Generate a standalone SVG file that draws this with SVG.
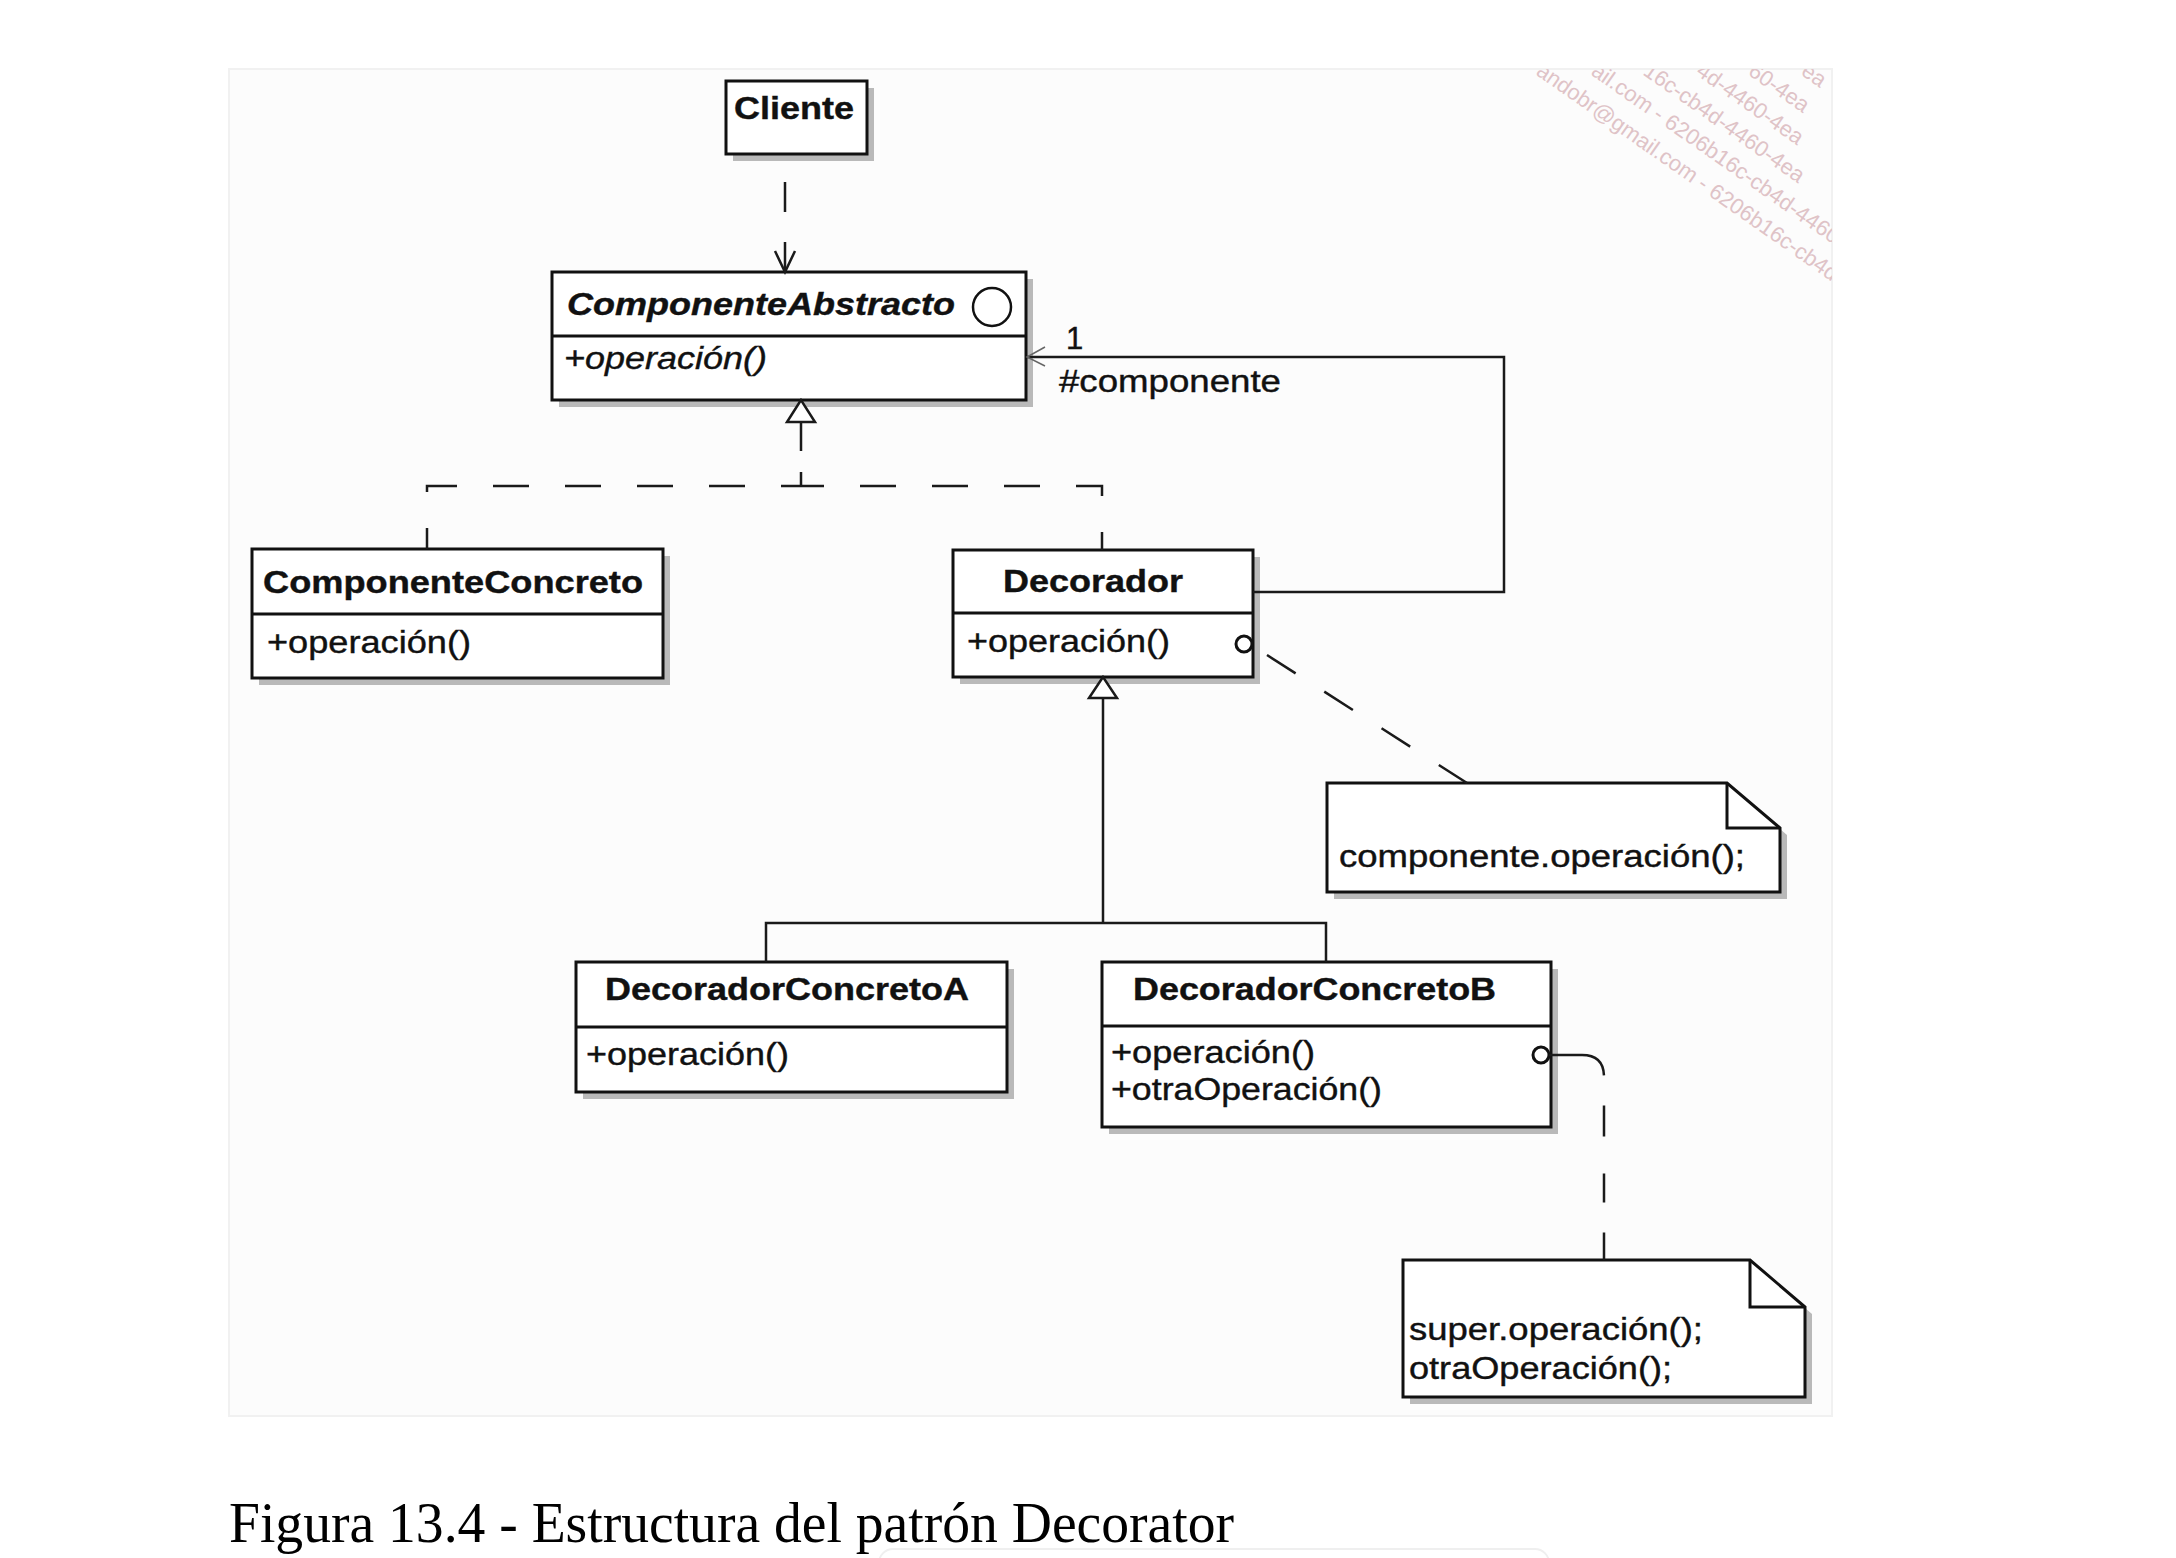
<svg xmlns="http://www.w3.org/2000/svg" width="2176" height="1558" viewBox="0 0 2176 1558">
<defs>
<style>
.box{fill:#fff;stroke:#111;stroke-width:3}
.sh{fill:#b9b9b9}
.div{stroke:#111;stroke-width:3}
.t{font-family:"Liberation Sans",Arial,sans-serif;font-size:31px;fill:#111;stroke:#111;stroke-width:0.4}
.b{font-weight:bold}
.i{font-style:italic}
.conn{fill:none;stroke:#1a1a1a;stroke-width:2.5}
.dash{stroke-dasharray:36 36}
.wm{font-family:"Liberation Sans",Arial,sans-serif;font-size:22px;fill:#dfc3c7}
</style>
<clipPath id="wmclip"><rect x="229" y="69" width="1603" height="1347"/></clipPath>
</defs>
<rect x="0" y="0" width="2176" height="1558" fill="#fff"/>
<rect x="229" y="69" width="1603" height="1347" fill="#fcfcfc" stroke="#f1f1f1" stroke-width="2"/>
<g clip-path="url(#wmclip)" class="wm">
<text transform="translate(1535,74) rotate(35)">andobr@gmail.com - 6206b16c-cb4d-4460-4ea</text>
<text transform="translate(1590,74) rotate(35)">ail.com - 6206b16c-cb4d-4460-4ea</text>
<text transform="translate(1642,74) rotate(35)">16c-cb4d-4460-4ea</text>
<text transform="translate(1695,74) rotate(35)">4d-4460-4ea</text>
<text transform="translate(1747,74) rotate(35)">60-4ea</text>
<text transform="translate(1800,74) rotate(35)">ea</text>
</g>

<g id="cliente">
<rect class="sh" x="733" y="88" width="141" height="73"/>
<rect class="box" x="726" y="81" width="141" height="73"/>
<text class="t b" x="734" y="119" textLength="120" lengthAdjust="spacingAndGlyphs">Cliente</text>
</g>

<g id="componenteAbstracto">
<rect class="sh" x="559" y="279" width="474" height="128"/>
<rect class="box" x="552" y="272" width="474" height="128"/>
<line class="div" x1="552" y1="336" x2="1026" y2="336"/>
<text class="t b i" x="567" y="315" textLength="388" lengthAdjust="spacingAndGlyphs">ComponenteAbstracto</text>
<circle cx="992" cy="307" r="19" fill="#fff" stroke="#111" stroke-width="2.5"/>
<text class="t i" x="564" y="369" textLength="203" lengthAdjust="spacingAndGlyphs">+operación()</text>
</g>

<g id="componenteConcreto">
<rect class="sh" x="259" y="556" width="411" height="129"/>
<rect class="box" x="252" y="549" width="411" height="129"/>
<line class="div" x1="252" y1="614" x2="663" y2="614"/>
<text class="t b" x="263" y="593" textLength="380" lengthAdjust="spacingAndGlyphs">ComponenteConcreto</text>
<text class="t" x="267" y="653" textLength="204" lengthAdjust="spacingAndGlyphs">+operación()</text>
</g>

<g id="decorador">
<rect class="sh" x="960" y="557" width="300" height="127"/>
<rect class="box" x="953" y="550" width="300" height="127"/>
<line class="div" x1="953" y1="613" x2="1253" y2="613"/>
<text class="t b" x="1003" y="592" textLength="180" lengthAdjust="spacingAndGlyphs">Decorador</text>
<text class="t" x="967" y="652" textLength="203" lengthAdjust="spacingAndGlyphs">+operación()</text>
</g>

<g id="decoradorConcretoA">
<rect class="sh" x="583" y="969" width="431" height="130"/>
<rect class="box" x="576" y="962" width="431" height="130"/>
<line class="div" x1="576" y1="1027" x2="1007" y2="1027"/>
<text class="t b" x="605" y="1000" textLength="364" lengthAdjust="spacingAndGlyphs">DecoradorConcretoA</text>
<text class="t" x="586" y="1065" textLength="203" lengthAdjust="spacingAndGlyphs">+operación()</text>
</g>

<g id="decoradorConcretoB">
<rect class="sh" x="1109" y="969" width="449" height="165"/>
<rect class="box" x="1102" y="962" width="449" height="165"/>
<line class="div" x1="1102" y1="1026" x2="1551" y2="1026"/>
<text class="t b" x="1133" y="1000" textLength="363" lengthAdjust="spacingAndGlyphs">DecoradorConcretoB</text>
<text class="t" x="1111" y="1063" textLength="204" lengthAdjust="spacingAndGlyphs">+operación()</text>
<text class="t" x="1111" y="1100" textLength="271" lengthAdjust="spacingAndGlyphs">+otraOperación()</text>
</g>

<g id="notaDecorador">
<polygon class="sh" points="1334,790 1734,790 1787,835 1787,899 1334,899"/>
<polygon class="box" points="1327,783 1727,783 1780,828 1780,892 1327,892"/>
<path d="M1727,783 V828 H1780" fill="none" stroke="#111" stroke-width="3"/>
<text class="t" x="1339" y="867" textLength="406" lengthAdjust="spacingAndGlyphs">componente.operación();</text>
</g>

<g id="notaDecoradorConcretoB">
<polygon class="sh" points="1410,1267 1757,1267 1812,1314 1812,1404 1410,1404"/>
<polygon class="box" points="1403,1260 1750,1260 1805,1307 1805,1397 1403,1397"/>
<path d="M1750,1260 V1307 H1805" fill="none" stroke="#111" stroke-width="3"/>
<text class="t" x="1409" y="1340" textLength="294" lengthAdjust="spacingAndGlyphs">super.operación();</text>
<text class="t" x="1409" y="1379" textLength="263" lengthAdjust="spacingAndGlyphs">otraOperación();</text>
</g>

<g id="connectors">
<path class="conn" d="M785,154 V272" stroke-dasharray="0 28 30 30 30"/>
<path class="conn" d="M775,251 L785,272 L795,251"/>
<path class="conn dash" d="M427,549 V486 H801" stroke-dashoffset="15"/>
<path class="conn dash" d="M1102,550 V486 H801" stroke-dashoffset="18"/>
<path class="conn" d="M801,422 V486" stroke-dasharray="29 21 14 100"/>
<polygon points="801,400 787,422 815,422" fill="#fff" stroke="#1a1a1a" stroke-width="2.5"/>
<path class="conn" d="M1253,592 H1504 V357 H1026"/>
<path d="M1045,347 L1027,357 L1045,366" fill="none" stroke="#666" stroke-width="1.5"/>
<text class="t" x="1066" y="349">1</text>
<text class="t" x="1059" y="392" textLength="222" lengthAdjust="spacingAndGlyphs">#componente</text>
<path class="conn" d="M1103,698 V923 M766,962 V923 H1326 V962"/>
<polygon points="1103,677 1089,698 1117,698" fill="#fff" stroke="#1a1a1a" stroke-width="2.5"/>
<circle cx="1244" cy="644" r="8" fill="#fff" stroke="#111" stroke-width="3"/>
<line class="conn" x1="1267" y1="655" x2="1467" y2="783" stroke-dasharray="34 34"/>
<circle cx="1541" cy="1055" r="8" fill="#fff" stroke="#111" stroke-width="3"/>
<path class="conn" d="M1549,1055 H1582 Q1604,1055 1604,1077 V1260" stroke-dasharray="67 30 31 37 29 30 30"/>
</g>

<text x="229" y="1542" font-family="'Liberation Serif','Times New Roman',serif" font-size="56" fill="#000" textLength="1005" lengthAdjust="spacingAndGlyphs">Figura 13.4 - Estructura del patrón Decorator</text>
<rect x="879" y="1549" width="670" height="40" rx="14" fill="none" stroke="#efefef" stroke-width="2"/>
</svg>
